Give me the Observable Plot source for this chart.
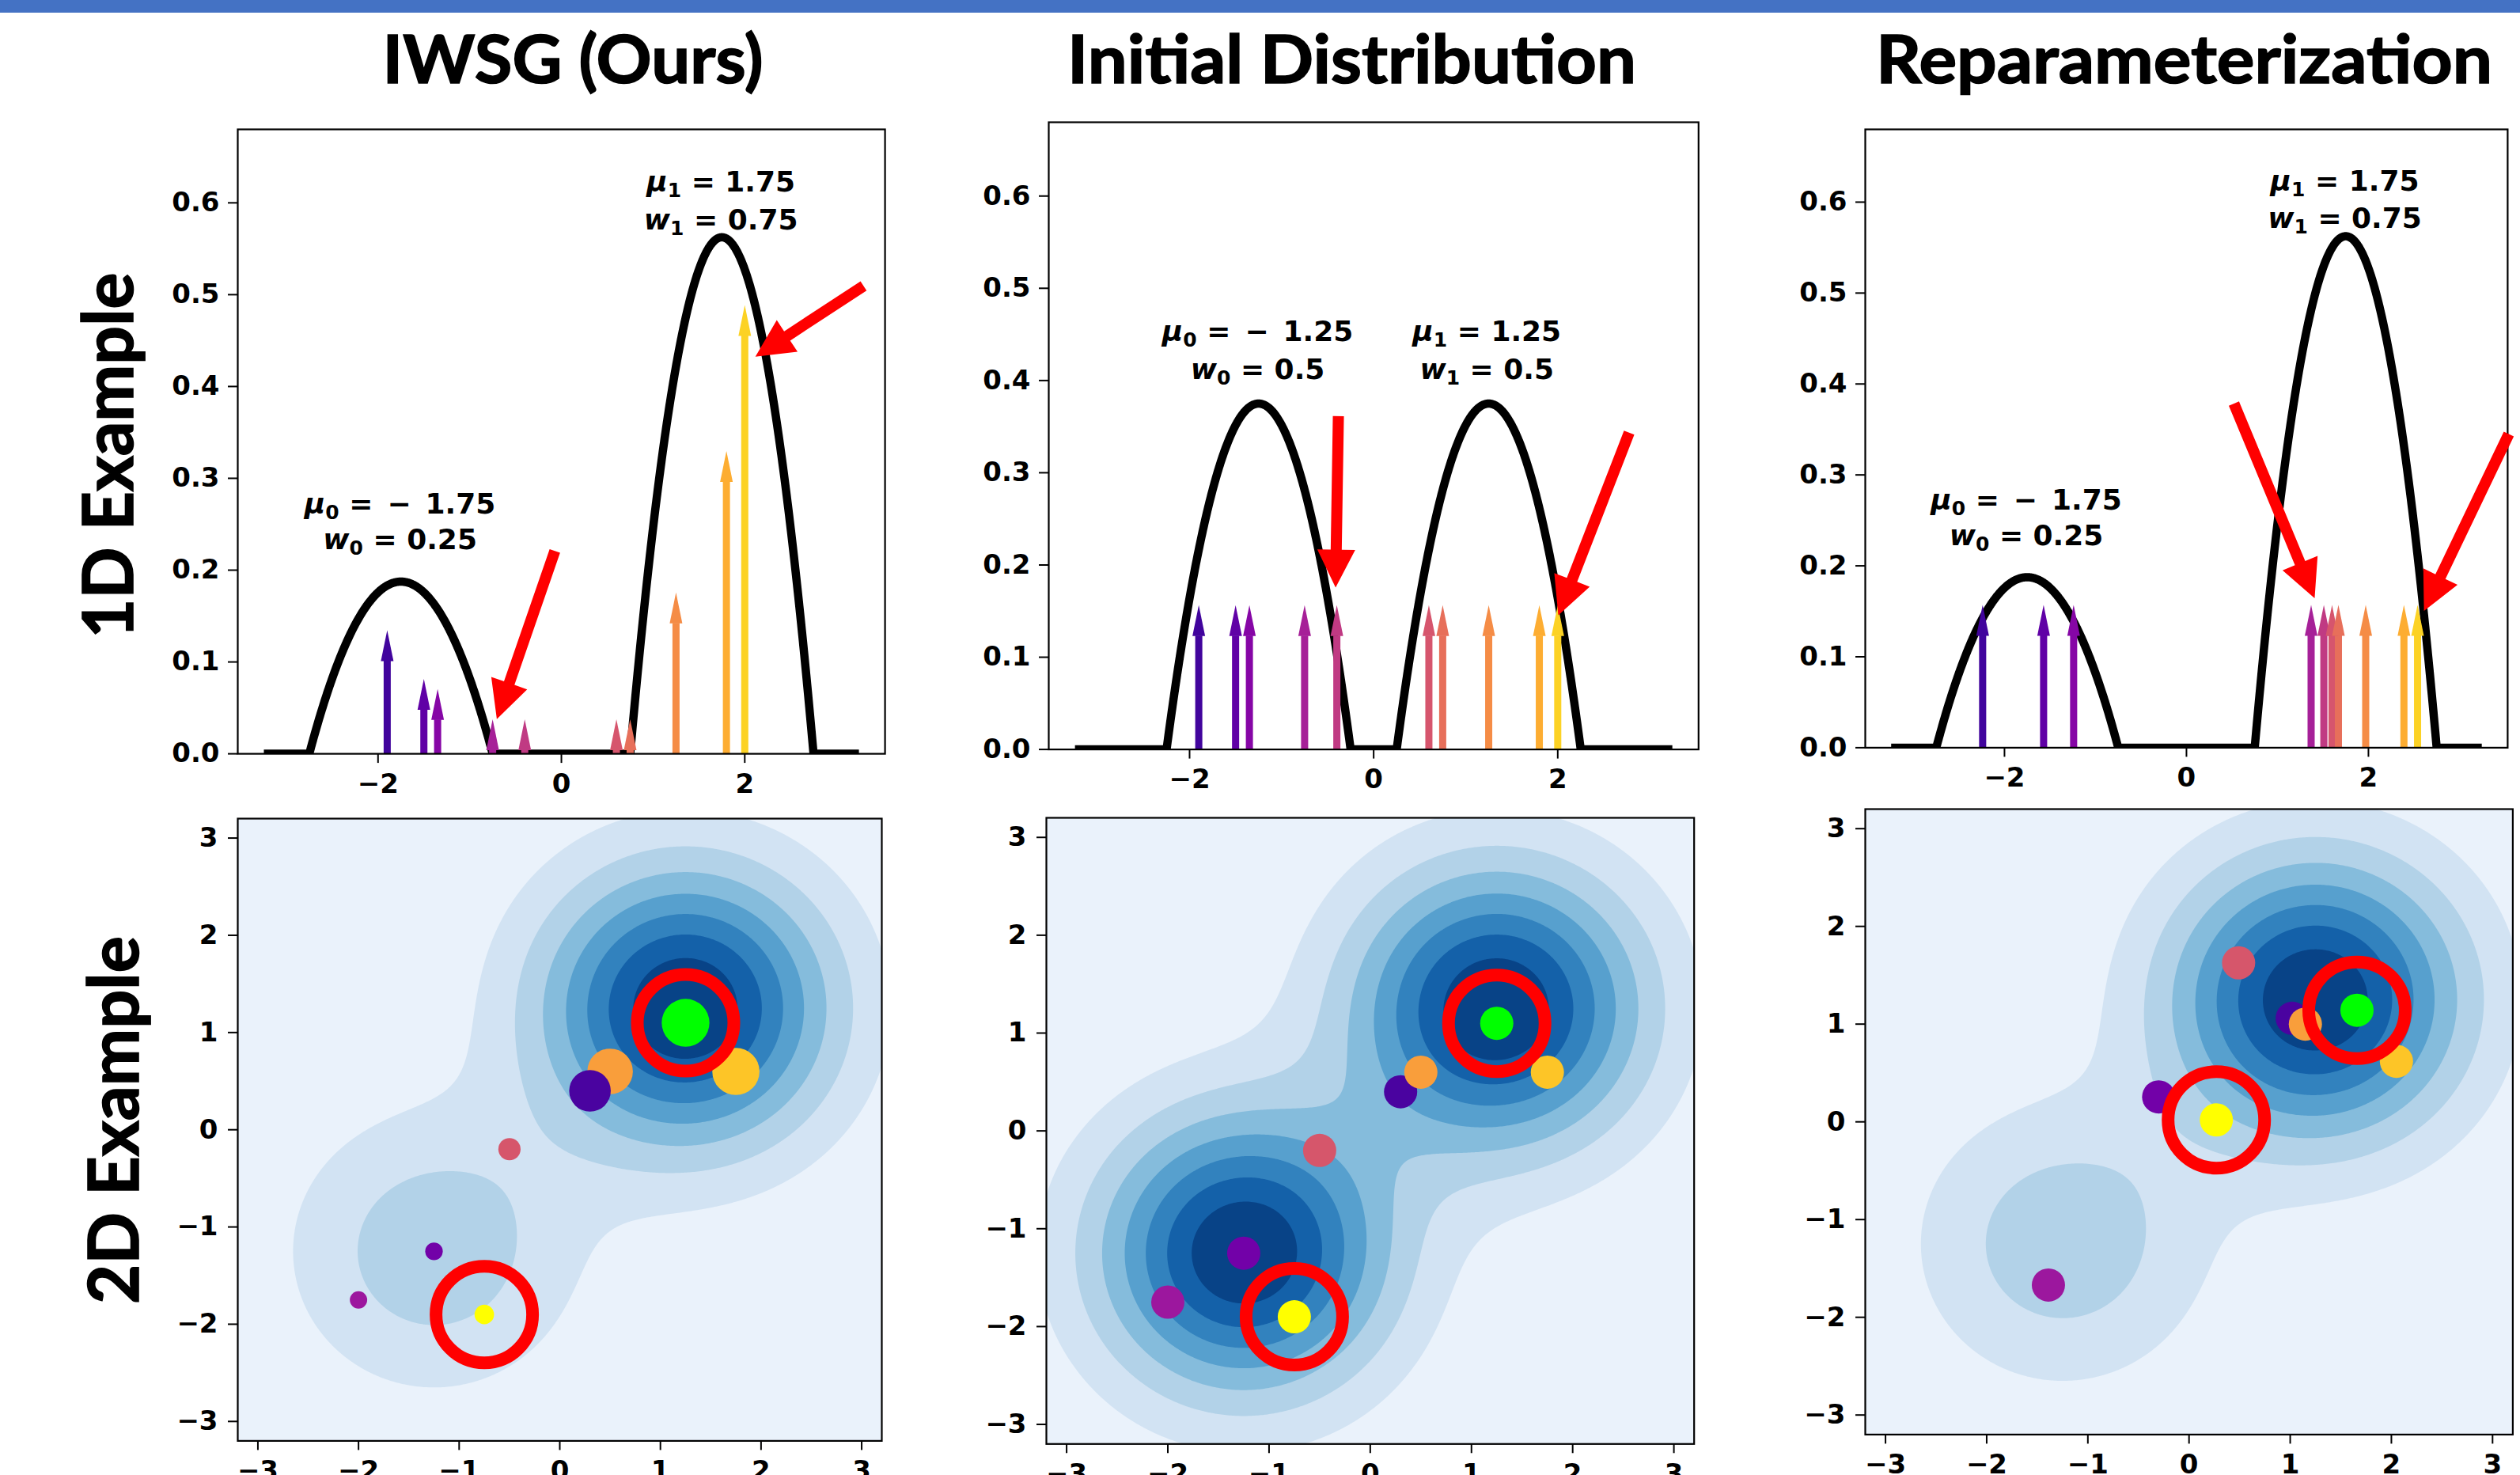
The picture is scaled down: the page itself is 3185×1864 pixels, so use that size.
<!DOCTYPE html>
<html><head><meta charset="utf-8">
<script src="https://cdn.jsdelivr.net/npm/d3@7"></script>
<script src="https://cdn.jsdelivr.net/npm/@observablehq/plot@0.6"></script>
<style>
html,body{margin:0;padding:0;background:#fff;}
body{width:3185px;height:1864px;overflow:hidden;position:relative;}
.panel{position:absolute;}
#topbar{position:absolute;left:0;top:0;width:3185px;height:16px;background:#4472c4;}
#overlay{position:absolute;left:0;top:0;z-index:5;}
</style></head><body>
<div id="topbar"></div>
<div id="root"></div>
<svg id="overlay" width="3185" height="1864" xmlns="http://www.w3.org/2000/svg"></svg>
<script>
// ================= DATA =================
const panelTitles = ["IWSG (Ours)", "Initial Distribution", "Reparameterization"];
const rowLabels = ["1D Example", "2D Example"];

// 1D mixtures (Epanechnikov kernels, bandwidth 1)
const mu1D_target = [-1.75, 1.75];
const w1D_target = [0.25, 0.75];
const mu1D_init = [-1.25, 1.25];
const w1D_init = [0.5, 0.5];

// 1D particles
const particleX_init = [-1.9, -1.5, -1.35, -0.75, -0.4, 0.6, 0.75, 1.25, 1.8, 2.0];
const particleX_reparam = [-2.24, -1.57, -1.24, 1.37, 1.51, 1.60, 1.67, 1.97, 2.39, 2.54];
const particleH_iwsg = [0.101, 0.048, 0.037, 0.004, 0.004, 0.004, 0.004, 0.142, 0.296, 0.455];
const particleH_uniform = [0.123, 0.123, 0.123, 0.123, 0.123, 0.123, 0.123, 0.123, 0.123, 0.123];
const particleColors = ["#41049d", "#6001a6", "#8606a6", "#a62098", "#c03a83", "#d6556d", "#e76f5a", "#f58c46", "#fdad32", "#fcd225"];

// 1D annotations
const annotText_target = ["μ₀ = − 1.75", "w₀ = 0.25", "μ₁ = 1.75", "w₁ = 0.75"];
const annotX_target = [-1.76, -1.76, 1.74, 1.74];
const annotY_target = [0.262, 0.2225, 0.6126, 0.5714];
const annotText_init = ["μ₀ = − 1.25", "w₀ = 0.5", "μ₁ = 1.25", "w₁ = 0.5"];
const annotX_init = [-1.26, -1.26, 1.23, 1.23];
const annotY_init = [0.4425, 0.402, 0.4425, 0.402];

// red pointer arrows (tail -> tip, data coordinates)
const redX1_iwsg = [-0.067, 3.30], redY1_iwsg = [0.2205, 0.509];
const redX2_iwsg = [-0.70, 2.12], redY2_iwsg = [0.0374, 0.432];
const redX1_init = [-0.379, 2.78], redY1_init = [0.361, 0.343];
const redX2_init = [-0.409, 2.01], redY2_init = [0.175, 0.145];
const redX1_rep = [0.526, 3.547], redY1_rep = [0.378, 0.3445];
const redX2_rep = [1.413, 2.615], redY2_rep = [0.164, 0.150];

// 2D mixtures (isotropic Gaussians, sigma = 1)
const mu2X = [-1.25, 1.25];
const mu2Y = [-1.25, 1.25];
const w2D_target = [0.25, 0.75];
const w2D_init = [0.5, 0.5];

// 2D particles
const pointColors = ["#4a03a0", "#7201a8", "#9c179e", "#d6566b", "#f99e3b", "#fdc527", "#00ff00", "#ffff00"];
const pointX_init = [0.3, -1.25, -2.0, -0.5, 0.5, 1.75, 1.25, -0.75];
const pointY_init = [0.4, -1.25, -1.75, -0.2, 0.6, 0.6, 1.1, -1.9];
const pointW_iwsg = [0.196, 0.035, 0.034, 0.056, 0.235, 0.252, 0.258, 0.043];
const pointW_uniform = [0.125, 0.125, 0.125, 0.125, 0.125, 0.125, 0.125, 0.125];
const pointX_rep = [1.02, -0.30, -1.39, 0.49, 1.15, 2.05, 1.66, 0.27];
const pointY_rep = [1.06, 0.255, -1.67, 1.627, 1.0, 0.62, 1.142, 0.02];
const ringX_init = [1.25, -0.75], ringY_init = [1.1, -1.9];
const ringX_rep = [1.66, 0.27], ringY_rep = [1.142, 0.02];

// Blues contour band colours (lowest band first)
const bandColors = ["#eaf2fb", "#d2e3f3", "#b2d2e8", "#85bcdc", "#57a0ce", "#3282be", "#1461a9", "#084387"];

// tick values
const xTicks1D = [-2, 0, 2];
const yTicks1D = [0, 0.1, 0.2, 0.3, 0.4, 0.5, 0.6];
const ticks2D = [-3, -2, -1, 0, 1, 2, 3];

// ================= LAYOUT =================
const NS = "http://www.w3.org/2000/svg";
const topFrames = [
  {L: 299.6, R: 1117.7, T: 162.6, B: 951.7},
  {L: 1325.3, R: 2146.6, T: 154.3, B: 946.9},
  {L: 2356.6, R: 3168.5, T: 162.6, B: 944.0}
];
const bottomFrames = [
  {L: 300.0, R: 1114.0, T: 1034.3, B: 1820.7},
  {L: 1322.3, R: 2141.0, T: 1032.7, B: 1824.0},
  {L: 2356.6, R: 3175.0, T: 1022.3, B: 1812.7}
];
const M = {left: 140, right: 60, top: 60, bottom: 90};
const baseStyle = {background: "transparent", maxWidth: "none", overflow: "visible",
  fontFamily: "'DejaVu Sans', sans-serif", fontSize: "34px", fontWeight: "bold", color: "black"};

function place(svg, f) {
  const div = document.createElement("div");
  div.className = "panel";
  div.style.left = (f.L - M.left) + "px";
  div.style.top = (f.T - M.top) + "px";
  div.appendChild(svg);
  document.getElementById("root").appendChild(div);
}

const headSymbol = {draw(ctx) { ctx.moveTo(-8, 0); ctx.lineTo(0, -39); ctx.lineTo(8, 0); ctx.closePath(); }};

function redArrowMark(x1s, y1s, x2s, y2s) {
  return (index, scales) => {
    const g = document.createElementNS(NS, "g");
    x1s.forEach((_, i) => {
      const ax = scales.x(x1s[i]), ay = scales.y(y1s[i]);
      const bx = scales.x(x2s[i]), by = scales.y(y2s[i]);
      const dx = bx - ax, dy = by - ay, len = Math.hypot(dx, dy);
      const ux = dx / len, uy = dy / len, nx = -uy, ny = ux;
      const hl = 48, hw = 24, sw = 7;
      const cx = bx - ux * hl, cy = by - uy * hl;
      const pts = [
        [ax + nx * sw, ay + ny * sw], [cx + nx * sw, cy + ny * sw], [cx + nx * hw, cy + ny * hw],
        [bx, by], [cx - nx * hw, cy - ny * hw], [cx - nx * sw, cy - ny * sw], [ax - nx * sw, ay - ny * sw]
      ];
      const p = document.createElementNS(NS, "polygon");
      p.setAttribute("points", pts.map(q => q[0].toFixed(2) + "," + q[1].toFixed(2)).join(" "));
      p.setAttribute("fill", "#ff0000");
      g.appendChild(p);
    });
    return g;
  };
}

function epanechnikov(mu, w) {
  return x => d3.sum(mu, (m, i) => { const u = x - m; return Math.abs(u) < 1 ? w[i] * 0.75 * (1 - u * u) : 0; });
}
function gauss2(mx, my, w) {
  return (x, y) => d3.sum(w, (wi, i) => wi / (2 * Math.PI) * Math.exp(-((x - mx[i]) ** 2 + (y - my[i]) ** 2) / 2));
}

function mathify(svg) {
  svg.querySelectorAll('g[aria-label="text"] text').forEach(t => {
    const m = t.textContent.match(/^([μw])([₀₁])\s*(.*)$/);
    if (!m) return;
    t.textContent = "";
    t.setAttribute("style", "white-space: pre");
    const rest = " " + m[3].replace(" − ", "\u2002−\u2002");
    const mk = (s, attrs) => { const e = document.createElementNS(NS, "tspan"); e.textContent = s; for (const k in attrs) e.setAttribute(k, attrs[k]); return e; };
    t.append(mk(m[1], {"font-style": "italic"}), mk(m[2] === "₀" ? "0" : "1", {"font-size": "25", dy: "7"}), mk(rest, {dy: "-7"}));
  });
}

function topPanel(f, mu, w, px, ph, aText, aX, aY, rx1, ry1, rx2, ry2) {
  const dens = epanechnikov(mu, w);
  const cx = d3.range(-3.2, 3.2 + 1e-9, 0.005);
  const cy = cx.map(dens);
  const svg = Plot.plot({
    width: (f.R - f.L) + M.left + M.right, height: (f.B - f.T) + M.top + M.bottom,
    marginLeft: M.left, marginRight: M.right, marginTop: M.top, marginBottom: M.bottom,
    x: {domain: [-3.53, 3.53]}, y: {domain: [0, 0.68]},
    style: baseStyle,
    marks: [
      Plot.line(cx, {x: Plot.identity, y: cy, stroke: "black", strokeWidth: 10.5, clip: true, strokeLinecap: "square", strokeLinejoin: "round"}),
      Plot.ruleX(px, {x: Plot.identity, y1: 0, y2: ph, stroke: particleColors, strokeWidth: 9}),
      Plot.dot(px, {x: Plot.identity, y: ph, symbol: headSymbol, fill: particleColors, stroke: "none"}),
      Plot.text(aText, {x: aX, y: aY, text: Plot.identity, fontSize: 36, fontWeight: "bold", lineAnchor: "bottom", textAnchor: "middle", fill: "black"}),
      Plot.axisX({ticks: xTicks1D, tickSize: 12, tickPadding: 13, strokeWidth: 2, label: null, tickFormat: d3.format("d")}),
      Plot.axisY({ticks: yTicks1D, tickSize: 12, tickPadding: 11, strokeWidth: 2, label: null, tickFormat: d3.format(".1f")}),
      Plot.frame({stroke: "black", strokeWidth: 2.2}),
      redArrowMark(rx1, ry1, rx2, ry2)
    ]
  });
  mathify(svg);
  place(svg, f);
}

function bottomPanel(f, w2, ptsX, ptsY, ptsW, rX, rY) {
  const dens = gauss2(mu2X, mu2Y, w2);
  const peak = d3.max(mu2X, (m, i) => dens(m, mu2Y[i]));
  const step = peak / 8;
  const T = d3.range(1, 8).map(k => k * step);
  const cuts = d3.range(1, 7).map(k => (k + 0.5) * step);
  const idx = d3.range(ptsX.length);
  const svg = Plot.plot({
    width: (f.R - f.L) + M.left + M.right, height: (f.B - f.T) + M.top + M.bottom,
    marginLeft: M.left, marginRight: M.right, marginTop: M.top, marginBottom: M.bottom,
    x: {domain: [-3.2, 3.2]}, y: {domain: [-3.2, 3.2]},
    color: {type: "threshold", domain: cuts, range: bandColors.slice(1)},
    r: {type: "sqrt", domain: [0, 0.125], range: [0, 21]},
    style: baseStyle,
    marks: [
      Plot.frame({fill: bandColors[0], stroke: "none"}),
      Plot.contour({fill: dens, x1: -3.2, y1: -3.2, x2: 3.2, y2: 3.2, thresholds: T, stroke: "none"}),
      Plot.dot(idx, {x: ptsX, y: ptsY, r: ptsW, fill: pointColors, stroke: "none"}),
      Plot.dot(rX, {x: rX, y: rY, r: 61, stroke: "#ff0000", strokeWidth: 16, fill: "none"}),
      Plot.axisX({ticks: ticks2D, tickSize: 12, tickPadding: 13, strokeWidth: 2, label: null, tickFormat: d3.format("d")}),
      Plot.axisY({ticks: ticks2D, tickSize: 12, tickPadding: 13, strokeWidth: 2, label: null, tickFormat: d3.format("d")}),
      Plot.frame({stroke: "black", strokeWidth: 2.2})
    ]
  });
  place(svg, f);
}

topPanel(topFrames[0], mu1D_target, w1D_target, particleX_init, particleH_iwsg, annotText_target, annotX_target, annotY_target, redX1_iwsg, redY1_iwsg, redX2_iwsg, redY2_iwsg);
topPanel(topFrames[1], mu1D_init, w1D_init, particleX_init, particleH_uniform, annotText_init, annotX_init, annotY_init, redX1_init, redY1_init, redX2_init, redY2_init);
topPanel(topFrames[2], mu1D_target, w1D_target, particleX_reparam, particleH_uniform, annotText_target, annotX_target, annotY_target, redX1_rep, redY1_rep, redX2_rep, redY2_rep);

bottomPanel(bottomFrames[0], w2D_target, pointX_init, pointY_init, pointW_iwsg, ringX_init, ringY_init);
bottomPanel(bottomFrames[1], w2D_init, pointX_init, pointY_init, pointW_uniform, ringX_init, ringY_init);
bottomPanel(bottomFrames[2], w2D_target, pointX_rep, pointY_rep, pointW_uniform, ringX_rep, ringY_rep);

// ================= TITLES & ROW LABELS =================
const ov = document.getElementById("overlay");
const titleCX = [724, 1708.5, 2760.5], titleW = [481, 719, 779];
panelTitles.forEach((s, i) => {
  const t = document.createElementNS(NS, "text");
  t.setAttribute("x", titleCX[i]); t.setAttribute("y", 105);
  t.setAttribute("text-anchor", "middle");
  t.setAttribute("font-family", "Lato, 'Open Sans', sans-serif");
  t.setAttribute("font-weight", "bold"); t.setAttribute("font-size", "84");
  t.setAttribute("stroke", "black"); t.setAttribute("stroke-width", "1.6");
  t.setAttribute("textLength", titleW[i]); t.setAttribute("lengthAdjust", "spacingAndGlyphs");
  t.textContent = s; ov.appendChild(t);
});
const rowX = [168.4, 175.4], rowCY = [575.6, 1415.5], rowLen = [462, 465];
rowLabels.forEach((s, i) => {
  const t = document.createElementNS(NS, "text");
  t.setAttribute("transform", `translate(${rowX[i]},${rowCY[i]}) rotate(-90)`);
  t.setAttribute("text-anchor", "middle");
  t.setAttribute("font-family", "Lato, 'Open Sans', sans-serif");
  t.setAttribute("font-weight", "bold"); t.setAttribute("font-size", "88");
  t.setAttribute("stroke", "black"); t.setAttribute("stroke-width", "1.6");
  t.setAttribute("textLength", rowLen[i]); t.setAttribute("lengthAdjust", "spacingAndGlyphs");
  t.textContent = s; ov.appendChild(t);
});
</script>
</body></html>
